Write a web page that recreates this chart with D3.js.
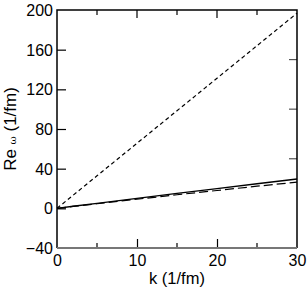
<!DOCTYPE html>
<html><head><meta charset="utf-8">
<script src="https://cdn.jsdelivr.net/npm/d3@7"></script>
<style>body{margin:0;background:#fff}svg{display:block}text{font-family:"Liberation Sans",Arial,sans-serif}</style>
</head><body>
<svg id="c" width="307" height="290"></svg>
<script>
const kValues = [0, 2, 5, 10, 15, 20, 25, 30];
const solidRe = [0, 2.1, 5.1, 10.1, 15.0, 19.9, 24.8, 29.6];
const longDashRe = [0, 1.9, 4.6, 9.2, 13.7, 18.0, 22.3, 26.4];
const shortDashRe = [0, 13.1, 32.8, 65.6, 98.4, 131.2, 164.0, 196.8];
const yTicks = [-40, 0, 40, 80, 120, 160, 200];
const xTicks = [0, 10, 20, 30];
const xMinor = [5, 15, 25];
const rightTicks = [0, 50, 100, 150];

const svg = d3.select("#c");
const L = 57, R = 297, T = 10, B = 248;
const x = d3.scaleLinear().domain([0, 30]).range([L, R]);
const y = d3.scaleLinear().domain([-40, 200]).range([B, T]);

// left axis
const gl = svg.append("g").attr("transform", `translate(${L},0)`)
  .call(d3.axisLeft(y).tickValues(yTicks).tickSize(-9).tickPadding(14).tickFormat(d3.format("d")));
gl.select(".domain").remove();
gl.selectAll(".tick line").attr("stroke", "#000").attr("stroke-width", 1.2)
  .filter(d => d === 200 || d === -40).remove();
gl.selectAll(".tick text").attr("font-size", 16).attr("fill", "#000").attr("dy", "0.35em").attr("x", -4);

// bottom axis
const gb = svg.append("g").attr("transform", `translate(0,${B})`)
  .call(d3.axisBottom(x).tickValues(xTicks).tickSize(-9).tickPadding(4).tickFormat(d3.format("d")));
gb.select(".domain").remove();
gb.selectAll(".tick line").attr("stroke", "#000").attr("stroke-width", 1.2)
  .filter(d => d === 0 || d === 30).remove();
gb.selectAll(".tick text").attr("font-size", 16).attr("fill", "#000").attr("y", 7);
svg.append("g").selectAll("line").data(xMinor).join("line")
  .attr("x1", d => x(d)).attr("x2", d => x(d)).attr("y1", B).attr("y2", B - 5)
  .attr("stroke", "#000").attr("stroke-width", 1.2);

// top ticks
svg.append("g").selectAll("line").data([5, 10, 15, 20, 25]).join("line")
  .attr("x1", d => x(d)).attr("x2", d => x(d)).attr("y1", T)
  .attr("y2", d => T + (d % 10 === 0 ? 8 : 5))
  .attr("stroke", "#000").attr("stroke-width", 1.2);
// right ticks
svg.append("g").selectAll("line").data(rightTicks.filter(d => d > 0)).join("line")
  .attr("x1", R).attr("x2", R - 8).attr("y1", d => y(d)).attr("y2", d => y(d))
  .attr("stroke", "#555").attr("stroke-width", 1.2);

// frame
svg.append("path").attr("d", `M${L},${B}V${T}H${R}V${B}`).attr("fill", "none")
  .attr("stroke", "#000").attr("stroke-width", 1.5);
svg.append("line").attr("x1", L).attr("x2", R).attr("y1", B).attr("y2", B)
  .attr("stroke", "#777").attr("stroke-width", 1.8);

// lines
const line = d3.line().x(d => x(d[0])).y(d => y(d[1]));
const mk = arr => kValues.map((k, i) => [k, arr[i]]);
svg.append("path").datum(mk(shortDashRe)).attr("d", line).attr("fill", "none")
  .attr("stroke", "#000").attr("stroke-width", 1.2).attr("stroke-dasharray", "4,3");
svg.append("path").datum(mk(longDashRe)).attr("d", line).attr("fill", "none")
  .attr("stroke", "#000").attr("stroke-width", 1.2).attr("stroke-dasharray", "9,4");
svg.append("path").datum(mk(solidRe)).attr("d", line).attr("fill", "none")
  .attr("stroke", "#000").attr("stroke-width", 1.3);

// labels
svg.append("text").attr("x", (L + R) / 2).attr("y", 284).attr("text-anchor", "middle")
  .attr("font-size", 16.5).text("k (1/fm)");
const yl = svg.append("text").attr("transform", `translate(16,${(T + B) / 2}) rotate(-90)`)
  .attr("text-anchor", "middle").attr("font-size", 17);
yl.append("tspan").text("Re ");
yl.append("tspan").attr("font-size", 10).attr("font-family", "DejaVu Serif").text("ω");
yl.append("tspan").text(" (1/fm)");
</script>
</body></html>
